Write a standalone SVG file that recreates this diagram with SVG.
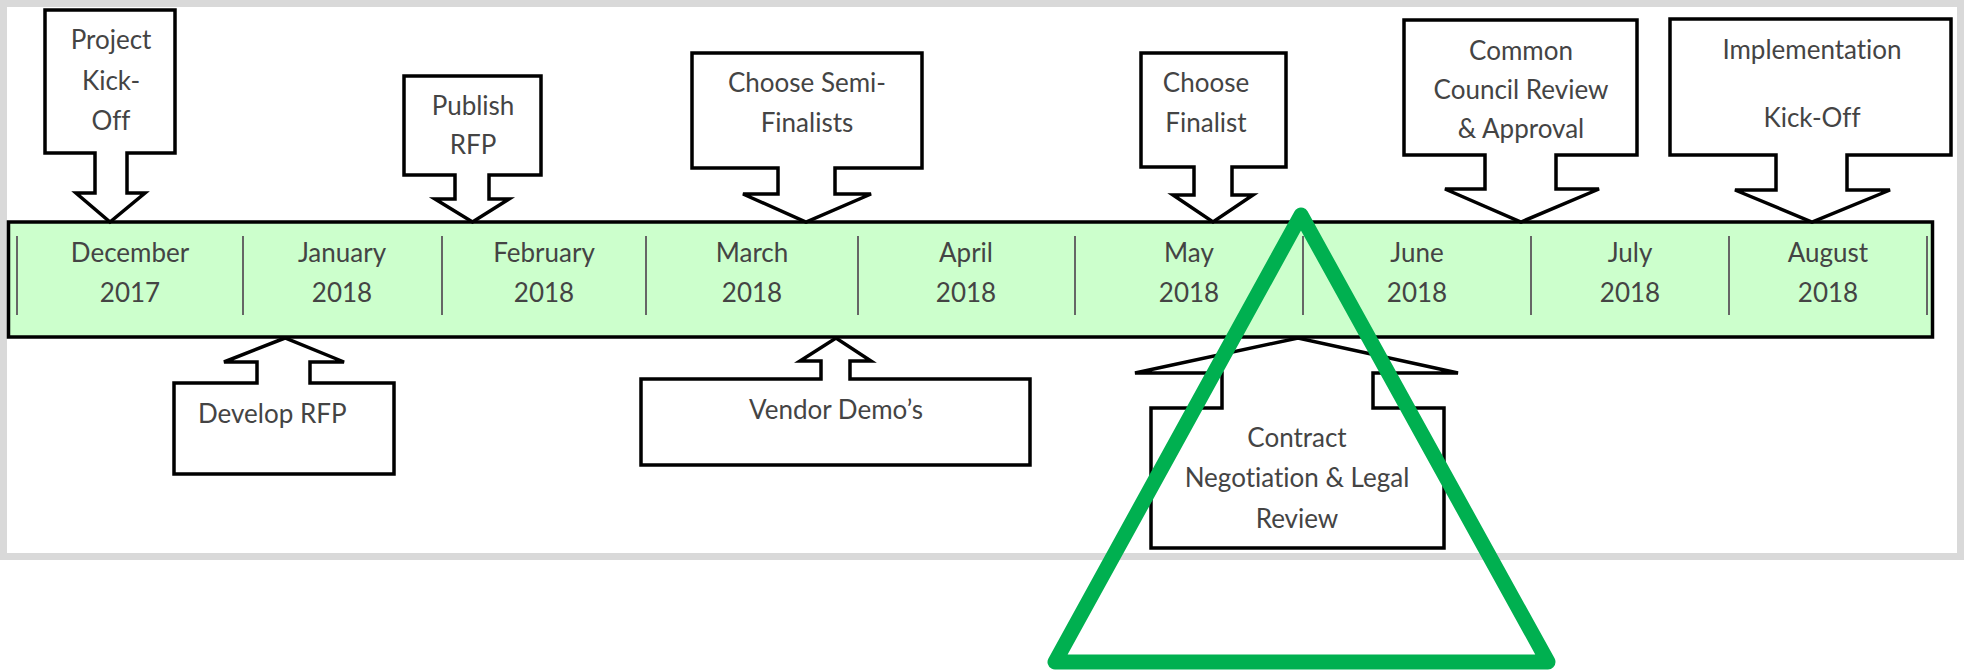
<svg xmlns="http://www.w3.org/2000/svg" width="1964" height="672" viewBox="0 0 1964 672">
<style>
.callout{fill:#ffffff;stroke:#000000;stroke-width:3.5;stroke-linejoin:miter}
.t{font-family:Lato,"Liberation Sans",sans-serif;font-size:26px;fill:#444444;text-anchor:middle;font-variant-ligatures:none}
.ts{font-family:Lato,"Liberation Sans",sans-serif;font-size:26px;fill:#444444;text-anchor:start;font-variant-ligatures:none}
.div{stroke:#666666;stroke-width:2}
</style>
<rect x="0" y="0" width="1964" height="672" fill="#ffffff"/>
<rect id="frame" x="3.5" y="3.5" width="1957" height="553" fill="#ffffff" stroke="#d9d9d9" stroke-width="7"/>

<g id="timeline">
  <rect x="8.5" y="222" width="1924" height="115" fill="#ccffcc" stroke="#000000" stroke-width="3.5"/>
  <g class="div">
    <line x1="17" y1="236" x2="17" y2="315"/>
    <line x1="243" y1="236" x2="243" y2="315"/>
    <line x1="442" y1="236" x2="442" y2="315"/>
    <line x1="646" y1="236" x2="646" y2="315"/>
    <line x1="858" y1="236" x2="858" y2="315"/>
    <line x1="1075" y1="236" x2="1075" y2="315"/>
    <line x1="1303" y1="236" x2="1303" y2="315"/>
    <line x1="1531" y1="236" x2="1531" y2="315"/>
    <line x1="1729" y1="236" x2="1729" y2="315"/>
    <line x1="1927" y1="236" x2="1927" y2="315"/>
  </g>
  <g id="month-dec"><text class="t" x="130" y="262">December</text><text class="t" x="130" y="302">2017</text></g>
  <g id="month-jan"><text class="t" x="342" y="262">January</text><text class="t" x="342" y="302">2018</text></g>
  <g id="month-feb"><text class="t" x="544" y="262">February</text><text class="t" x="544" y="302">2018</text></g>
  <g id="month-mar"><text class="t" x="752" y="262">March</text><text class="t" x="752" y="302">2018</text></g>
  <g id="month-apr"><text class="t" x="966" y="262">April</text><text class="t" x="966" y="302">2018</text></g>
  <g id="month-may"><text class="t" x="1189" y="262">May</text><text class="t" x="1189" y="302">2018</text></g>
  <g id="month-jun"><text class="t" x="1417" y="262">June</text><text class="t" x="1417" y="302">2018</text></g>
  <g id="month-jul"><text class="t" x="1630" y="262">July</text><text class="t" x="1630" y="302">2018</text></g>
  <g id="month-aug"><text class="t" x="1828" y="262">August</text><text class="t" x="1828" y="302">2018</text></g>
</g>

<g id="connectors"></g>

<g id="kickoff">
  <path class="callout" d="M45,10 H175 V153 H127 V193 H145 L110,222 L76,193 H95 V153 H45 Z"/>
  <text class="t" x="111" y="49">Project</text>
  <text class="t" x="111" y="90">Kick-</text>
  <text class="t" x="111" y="130">Off</text>
</g>
<g id="publish">
  <path class="callout" d="M404,76 H541 V175 H489 V199 H509 L472.5,222 L435,199 H455 V175 H404 Z"/>
  <text class="t" x="473" y="115">Publish</text>
  <text class="t" x="473" y="154">RFP</text>
</g>
<g id="semifinalists">
  <path class="callout" d="M692,53 H922 V168 H835 V194 H871 L806,222 L743,194 H778 V168 H692 Z"/>
  <text class="t" x="807" y="92">Choose Semi-</text>
  <text class="t" x="807" y="132">Finalists</text>
</g>
<g id="finalist">
  <path class="callout" d="M1141,53 H1286 V167 H1232 V195 H1253 L1213,222 L1173,195 H1194 V167 H1141 Z"/>
  <text class="t" x="1206" y="92">Choose</text>
  <text class="t" x="1206" y="132">Finalist</text>
</g>
<g id="council">
  <path class="callout" d="M1404,20 H1637 V155 H1556 V189 H1599 L1521,222 L1445,189 H1485 V155 H1404 Z"/>
  <text class="t" x="1521" y="60">Common</text>
  <text class="t" x="1521" y="99">Council Review</text>
  <text class="t" x="1521" y="138">&amp; Approval</text>
</g>
<g id="implementation">
  <path class="callout" d="M1670,19 H1951 V155 H1847 V190 H1890 L1812,222 L1735,190 H1776 V155 H1670 Z"/>
  <text class="t" x="1812" y="59">Implementation</text>
  <text class="t" x="1812" y="127">Kick-Off</text>
</g>
<g id="develop">
  <path class="callout" d="M174,383 H257 V362 H224 L285,338 L344,362 H310 V383 H394 V474 H174 Z"/>
  <text class="ts" x="198" y="423">Develop RFP</text>
</g>
<g id="vendor">
  <path class="callout" d="M641,379 H821 V361 H800 L836,338 L871,361 H850 V379 H1030 V465 H641 Z"/>
  <text class="t" x="836" y="419">Vendor Demo’s</text>
</g>
<g id="contract">
  <path class="callout" d="M1151,408 H1222 V373 H1135 L1298,338 L1458,373 H1373 V408 H1444 V548 H1151 Z"/>
  <text class="t" x="1297" y="447">Contract</text>
  <text class="t" x="1297" y="487">Negotiation &amp; Legal</text>
  <text class="t" x="1297" y="528">Review</text>
</g>

<g id="triangle">
  <path d="M1301,215 L1055,662 L1548,662 Z" fill="none" stroke="#00b050" stroke-width="15" stroke-linejoin="round"/>
</g>
</svg>
